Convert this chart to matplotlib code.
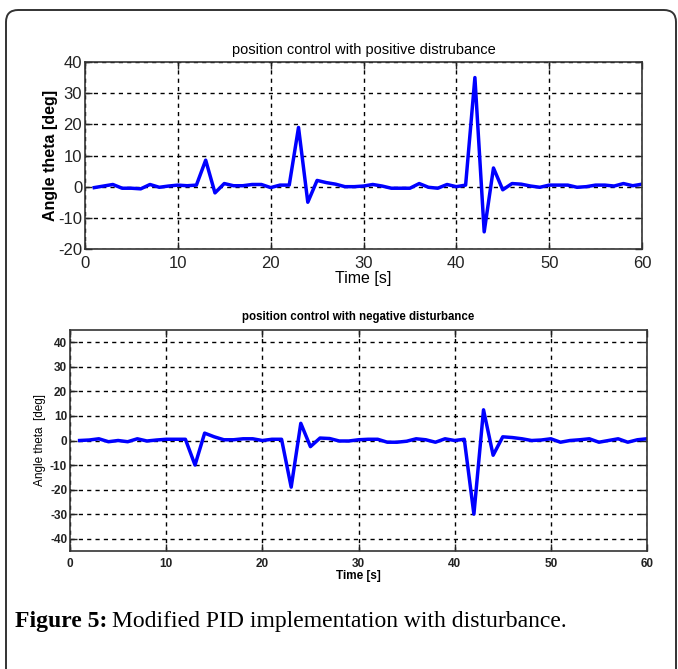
import matplotlib
matplotlib.use("Agg")
import matplotlib.pyplot as plt
import numpy as np
from matplotlib.patches import FancyBboxPatch

t = list(range(1, 61))
theta_pos = [-0.3, 0.2, 0.7, -0.5, -0.5, -0.7, 0.7, -0.2, 0.2, 0.5,
             0.3, 0.5, 8.5, -2.0, 1.0, 0.3, 0.3, 0.7, 0.7, -0.3,
             0.5, 0.5, 19.0, -5.0, 2.0, 1.3, 0.8, 0.0, 0.0, 0.2,
             0.7, 0.2, -0.5, -0.5, -0.5, 1.0, -0.2, -0.5, 0.7, 0.0,
             0.5, 35.0, -14.5, 6.0, -1.0, 1.0, 0.8, 0.2, -0.2, 0.5,
             0.5, 0.5, -0.2, 0.0, 0.5, 0.5, 0.2, 1.0, 0.3, 0.8]
theta_neg = [0.0, 0.2, 0.7, -0.5, 0.0, -0.5, 0.7, -0.2, 0.2, 0.5,
             0.5, 0.5, -10.0, 3.0, 1.5, 0.3, 0.3, 0.7, 0.7, 0.0,
             0.5, 0.5, -19.0, 7.0, -2.5, 1.0, 0.8, -0.2, -0.2, 0.3,
             0.5, 0.5, -0.7, -0.7, -0.3, 0.7, 0.3, -0.7, 0.7, 0.0,
             0.5, -30.0, 12.5, -6.0, 1.5, 1.2, 0.7, 0.0, 0.2, 0.7,
             -0.7, 0.0, 0.3, 0.7, -0.7, 0.0, 0.7, -0.7, 0.3, 0.7]
x_ticks = [0, 10, 20, 30, 40, 50, 60]
y_ticks_top = [-20, -10, 0, 10, 20, 30, 40]
y_ticks_bot = [-40, -30, -20, -10, 0, 10, 20, 30, 40]

W, H = 678, 669
plt.rcParams['font.family'] = ['Liberation Sans', 'DejaVu Sans']
plt.rcParams['axes.unicode_minus'] = False
fig = plt.figure(figsize=(W / 100, H / 100), dpi=100)

def px_rect(l, t_, r, b):
    return [l / W, 1 - b / H, (r - l) / W, (b - t_) / H]

# border
border = FancyBboxPatch((6 / W, -0.2), (676 - 6) / W, (H - 10) / H + 0.2,
                        boxstyle="round,pad=0,rounding_size=0.018",
                        transform=fig.transFigure, fill=False,
                        edgecolor='#333333', linewidth=1.4, clip_on=False)
fig.patches.append(border)

grid_kw = dict(color='black', linestyle=(0, (3, 3)), linewidth=1.0)

def style(ax, yt, ylim, fs, fw, pad):
    ax.set_xlim(0, 60)
    ax.set_ylim(*ylim)
    ax.set_xticks(x_ticks)
    ax.set_yticks(yt)
    ax.tick_params(direction='in', top=True, right=True, length=5,
                   labelsize=fs, colors='#222222', width=1.0, pad=2)
    ax.tick_params(axis='x', pad=pad)
    for lab in ax.get_xticklabels() + ax.get_yticklabels():
        lab.set_fontweight(fw)
    ax.grid(True, **grid_kw)
    for s in ax.spines.values():
        s.set_linewidth(1.2)
        s.set_color('#333333')

ax1 = fig.add_axes(px_rect(85, 62, 642, 249))
ax1.plot(t, theta_pos, color='#0000ff', linewidth=2.5)
style(ax1, y_ticks_top, (-20, 40), 12, 'normal', 5)
ax1.set_title('position control with positive distrubance', fontsize=10.5, pad=6)
ax1.set_xlabel('Time [s]', fontsize=11.5, labelpad=0)
ax1.set_ylabel('Angle theta [deg]', fontsize=11.5, fontweight='bold', labelpad=0)

ax2 = fig.add_axes(px_rect(70, 330, 647, 551))
ax2.plot(t, theta_neg, color='#0000ff', linewidth=2.5)
style(ax2, y_ticks_bot, (-45, 45), 8.5, 'bold', 5)
ax2.set_title('position control with negative disturbance', fontsize=8.3, fontweight='bold', pad=7)
ax2.set_xlabel('Time [s]', fontsize=8.5, fontweight='bold', labelpad=0)
ax2.set_ylabel('Angle theta  [deg]', fontsize=8.5, labelpad=3)

# caption
cap_y = 1 - 621 / H
t1 = fig.text(15 / W, cap_y, 'Figure 5:', fontsize=17, fontweight='bold',
              family=['Liberation Serif', 'DejaVu Serif'], va='center', ha='left')
fig.canvas.draw()
bb = t1.get_window_extent()
fig.text((bb.x1 + 5) / W, cap_y, 'Modified PID implementation with disturbance.',
         fontsize=17, family=['Liberation Serif', 'DejaVu Serif'], va='center', ha='left')

fig.savefig('out.png', dpi=100)
